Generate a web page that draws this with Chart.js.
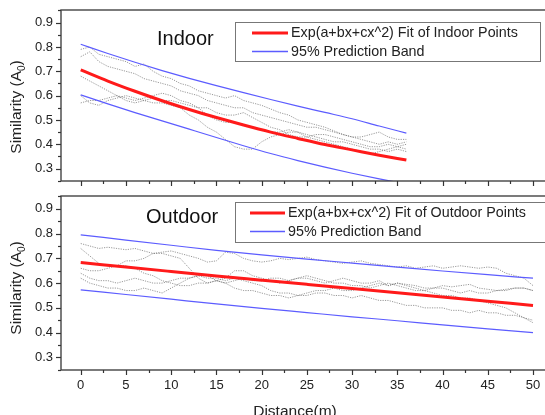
<!DOCTYPE html>
<html><head><meta charset="utf-8">
<script src="https://cdn.jsdelivr.net/npm/chart.js@4/dist/chart.umd.min.js"></script>
<style>
html,body{margin:0;padding:0;overflow:hidden;background:#fff;width:545px;height:415px;position:relative}
canvas{position:absolute;left:0}
#c1{top:0}
#c2{top:190px}
</style></head><body>
<canvas id="c1" width="570" height="190"></canvas>
<canvas id="c2" width="570" height="225"></canvas>
<script>
// ---------- DATA ----------
const xMajorTicks = [0, 5, 10, 15, 20, 25, 30, 35, 40, 45, 50];
const xMinorTicks = [2.5, 7.5, 12.5, 17.5, 22.5, 27.5, 32.5, 37.5, 42.5, 47.5];
const yMajorTicks = [0.3, 0.4, 0.5, 0.6, 0.7, 0.8, 0.9];
const yMinorTicks = [0.25, 0.35, 0.45, 0.55, 0.65, 0.75, 0.85, 0.95];

const indoorDist = [0,1,2,3,4,5,6,7,8,9,10,11,12,13,14,15,16,17,18,19,20,21,22,23,24,25,26,27,28,29,30,31,32,33,34,35,36];
const indoorTrace1 = [.79,.80,.77,.76,.75,.74,.72,.73,.70,.68,.67,.65,.64,.62,.61,.60,.59,.60,.58,.57,.56,.545,.53,.52,.50,.49,.48,.47,.455,.44,.43,.43,.44,.45,.43,.42,.42];
const indoorTrace2 = [.76,.78,.74,.72,.71,.70,.69,.67,.66,.65,.64,.62,.61,.60,.58,.57,.56,.55,.55,.53,.52,.51,.50,.49,.48,.47,.47,.46,.45,.44,.43,.42,.41,.40,.41,.40,.41];
const indoorTrace3 = [.68,.66,.64,.62,.60,.59,.58,.59,.60,.61,.60,.58,.57,.55,.52,.50,.49,.49,.48,.47,.46,.45,.45,.46,.45,.44,.43,.42,.41,.41,.40,.39,.38,.38,.37,.38,.37];
const indoorTrace4 = [.60,.57,.56,.58,.59,.60,.59,.58,.57,.57,.56,.55,.52,.50,.47,.45,.42,.39,.38,.38,.41,.43,.44,.45,.45,.43,.42,.41,.40,.39,.38,.37,.36,.37,.38,.39,.40];
const indoorTrace5 = [.57,.58,.58,.59,.60,.58,.57,.58,.59,.58,.58,.57,.56,.55,.55,.53,.52,.52,.53,.51,.49,.47,.46,.44,.43,.43,.44,.44,.43,.42,.41,.40,.39,.39,.40,.39,.38];

const indoorFitDist = [0,3,6,9,12,15,18,21,24,27,30,33,36];
const indoorFit   = [.706,.660,.618,.579,.543,.510,.479,.450,.424,.399,.377,.355,.335];
const indoorUpper = [.811,.773,.737,.703,.671,.641,.612,.584,.557,.531,.505,.475,.446];
const indoorLower = [.603,.566,.530,.496,.462,.428,.394,.362,.333,.306,.281,.258,.236];

const outdoorDist = [0,1,2,3,4,5,6,7,8,9,10,11,12,13,14,15,16,17,18,19,20,21,22,23,24,25,26,27,28,29,30,31,32,33,34,35,36,37,38,39,40,41,42,43,44,45,46,47,48,49,50];
const outdoorTrace1 = [.76,.75,.74,.745,.74,.735,.74,.73,.72,.725,.73,.72,.71,.70,.685,.69,.725,.72,.70,.69,.685,.69,.70,.695,.70,.705,.695,.69,.685,.68,.685,.69,.68,.675,.67,.665,.67,.66,.665,.67,.66,.665,.67,.665,.66,.665,.66,.64,.63,.62,.59];
const outdoorTrace2 = [.74,.71,.68,.67,.67,.69,.69,.70,.72,.72,.71,.70,.66,.62,.60,.61,.62,.65,.65,.63,.62,.61,.60,.61,.62,.62,.61,.60,.61,.62,.61,.60,.60,.61,.59,.60,.595,.59,.58,.58,.59,.585,.59,.595,.58,.575,.57,.575,.58,.58,.57];
const outdoorTrace3 = [.66,.65,.65,.66,.67,.67,.66,.64,.63,.61,.60,.59,.59,.60,.60,.61,.60,.61,.62,.61,.61,.62,.62,.61,.62,.63,.62,.61,.60,.60,.59,.59,.58,.59,.60,.59,.58,.57,.57,.58,.58,.57,.56,.57,.56,.56,.57,.57,.58,.58,.57];
const outdoorTrace4 = [.64,.62,.61,.61,.60,.61,.62,.61,.60,.60,.61,.62,.62,.63,.62,.62,.61,.62,.61,.60,.59,.57,.56,.56,.55,.55,.56,.56,.55,.55,.54,.55,.54,.53,.53,.52,.51,.51,.50,.50,.50,.49,.49,.48,.49,.48,.48,.47,.47,.46,.45];
const outdoorTrace5 = [.62,.60,.59,.58,.58,.57,.57,.58,.57,.56,.58,.60,.62,.63,.63,.61,.60,.58,.57,.57,.56,.55,.55,.54,.55,.56,.57,.57,.58,.57,.57,.58,.59,.60,.59,.60,.59,.58,.57,.56,.55,.55,.54,.54,.53,.52,.51,.50,.48,.46,.44];

const outdoorFitDist = [0,5,10,15,20,25,30,35,40,45,50];
const outdoorFit   = [.683,.665,.647,.629,.612,.595,.578,.561,.544,.527,.510];
const outdoorUpper = [.795,.774,.753,.732,.714,.697,.681,.665,.649,.634,.620];
const outdoorLower = [.573,.554,.535,.516,.498,.481,.464,.448,.431,.415,.400];

const fitLabelIndoor = 'Exp(a+bx+cx^2) Fit of Indoor Points';
const fitLabelOutdoor = 'Exp(a+bx+cx^2) Fit of Outdoor Points';
const bandLabel = '95% Prediction Band';

// ---------- STYLE / HELPERS ----------
const FONT = "'Liberation Sans', Arial, Helvetica, sans-serif";
const RED = '#ff1a1a', BLUE = '#5c5cff', TRACE = 'rgba(90,90,90,0.62)';
const pts = (xs, ys) => ys.map((y, i) => ({x: xs[i], y}));
const isIn = (arr, v) => arr.some(t => Math.abs(t - v) < 1e-9);

function traceDs(xs, ys){
  return {label:'trace', data: pts(xs, ys), borderColor: TRACE, borderWidth: 1,
    borderDash:[1.2,1.2], pointRadius:0, tension:0, fill:false};
}
function curveDs(label, xs, ys, color, w){
  return {label, data: pts(xs, ys), borderColor: color, borderWidth: w,
    pointRadius:0, cubicInterpolationMode:'monotone', fill:false};
}

function makePanel(id, o){
  const datasets = [
    curveDs(o.fitLabel, o.fitDist, o.fit, RED, 3),
    curveDs(bandLabel, o.fitDist, o.upper, BLUE, 1.2),
    curveDs(bandLabel, o.fitDist, o.lower, BLUE, 1.2),
    ...o.traces.map(t => traceDs(o.dist, t))
  ];
  const annot = {
    id: 'annot_' + id,
    afterDraw(chart){
      const {ctx, chartArea: a, scales: {x, y}} = chart;
      ctx.save();
      ctx.setLineDash([]);
      ctx.lineDashOffset = 0;
      // frame
      ctx.strokeStyle = '#444'; ctx.lineWidth = 1.4;
      ctx.strokeRect(a.left, a.top, a.right - a.left, a.bottom - a.top);
      // tick marks
      ctx.lineWidth = 1.2; ctx.strokeStyle = '#333';
      for (const v of [...xMajorTicks, ...xMinorTicks]) {
        const px = Math.round(x.getPixelForValue(v)) + 0.5;
        if (px > a.right) continue;
        const len = isIn(xMajorTicks, v) ? 5 : 3;
        ctx.beginPath(); ctx.moveTo(px, a.bottom); ctx.lineTo(px, a.bottom + len); ctx.stroke();
      }
      for (const v of [...yMajorTicks, ...yMinorTicks]) {
        const py = Math.round(y.getPixelForValue(v)) + 0.5;
        const len = isIn(yMajorTicks, v) ? 5 : 3;
        ctx.beginPath(); ctx.moveTo(a.left, py); ctx.lineTo(a.left - len, py); ctx.stroke();
      }
      // panel title
      ctx.fillStyle = '#111'; ctx.font = '20px ' + FONT;
      ctx.textBaseline = 'alphabetic'; ctx.textAlign = 'left';
      ctx.fillText(o.title, o.titleX, o.titleY);
      // legend box
      const L = o.legend;
      ctx.fillStyle = '#fff'; ctx.fillRect(L.x, L.y, L.w, L.h);
      ctx.strokeStyle = '#777'; ctx.lineWidth = 1; ctx.strokeRect(L.x + 0.5, L.y + 0.5, L.w, L.h);
      ctx.setLineDash([]);
      ctx.lineWidth = 3; ctx.strokeStyle = RED;
      ctx.beginPath(); ctx.moveTo(L.lx1, L.r1); ctx.lineTo(L.lx2, L.r1); ctx.stroke();
      ctx.setLineDash([]);
      ctx.lineWidth = 1.5; ctx.strokeStyle = BLUE;
      ctx.beginPath(); ctx.moveTo(L.lx1, L.r2); ctx.lineTo(L.lx2, L.r2); ctx.stroke();
      ctx.fillStyle = '#222'; ctx.font = '14.3px ' + FONT; ctx.textBaseline = 'middle';
      ctx.fillText(o.fitLabel, L.tx, L.r1 + 0.5);
      ctx.fillText(bandLabel, L.tx, L.r2 + 0.5);
      // y axis title with subscript
      ctx.save();
      ctx.translate(o.yTitleX, o.yTitleY); ctx.rotate(-Math.PI / 2);
      ctx.fillStyle = '#222'; ctx.textBaseline = 'middle';
      const main = 'Similarity (A', sub = '0', end = ')';
      ctx.font = '15.5px ' + FONT; const w1 = ctx.measureText(main).width, w3 = ctx.measureText(end).width;
      ctx.font = '10px ' + FONT; const w2 = ctx.measureText(sub).width;
      let sx = -(w1 + w2 + w3) / 2;
      ctx.textAlign = 'left';
      ctx.font = '15.5px ' + FONT; ctx.fillText(main, sx, 0); sx += w1;
      ctx.font = '10px ' + FONT; ctx.fillText(sub, sx, 5); sx += w2;
      ctx.font = '15.5px ' + FONT; ctx.fillText(end, sx, 0);
      ctx.restore();
      // x axis title
      if (o.xTitle) {
        ctx.fillStyle = '#222'; ctx.font = '15.5px ' + FONT;
        ctx.textAlign = 'center'; ctx.textBaseline = 'alphabetic';
        ctx.fillText(o.xTitle, o.xTitleX, o.xTitleY);
      }
      ctx.restore();
    }
  };
  return new Chart(document.getElementById(id), {
    type: 'line',
    data: {datasets},
    options: {
      responsive: false, animation: false, devicePixelRatio: 1,
      layout: {padding: {top: o.padTop, left: 0, right: 0, bottom: 0}},
      plugins: {legend: {display: false}, tooltip: {enabled: false}, title: {display: false}},
      scales: {
        x: {
          type: 'linear', min: -2.18, max: 54.09,
          grid: {display: false, drawTicks: false}, border: {display: false},
          afterBuildTicks: s => { s.ticks = [...xMajorTicks, ...xMinorTicks].sort((a,b)=>a-b).map(v => ({value: v})); },
          afterFit: s => { s.height = o.xAxisH; s.paddingLeft = 0; s.paddingRight = 0; },
          ticks: {display: o.showXLabels, autoSkip: false, maxRotation: 0, padding: 8, color: '#222',
            font: {family: FONT, size: 13},
            callback: v => isIn(xMajorTicks, v) ? String(v) : ''}
        },
        y: {
          type: 'linear', min: 0.249, max: 0.952,
          grid: {display: false, drawTicks: false}, border: {display: false},
          afterBuildTicks: s => { s.ticks = [...yMajorTicks, ...yMinorTicks].sort((a,b)=>a-b).map(v => ({value: v})); },
          afterFit: s => { s.width = 61; s.paddingTop = 0; s.paddingBottom = 0; },
          ticks: {autoSkip: false, padding: 8, color: '#222', font: {family: FONT, size: 13},
            callback: v => isIn(yMajorTicks, v) ? v.toFixed(1) : ''}
        }
      }
    },
    plugins: [annot]
  });
}

makePanel('c1', {
  dist: indoorDist, traces: [indoorTrace1, indoorTrace2, indoorTrace3, indoorTrace4, indoorTrace5],
  fitDist: indoorFitDist, fit: indoorFit, upper: indoorUpper, lower: indoorLower,
  fitLabel: fitLabelIndoor, title: 'Indoor', titleX: 157, titleY: 45,
  padTop: 10, xAxisH: 9, showXLabels: false,
  legend: {x: 235, y: 22, w: 305, h: 39, lx1: 252, lx2: 288, r1: 33, r2: 51.5, tx: 291},
  yTitleX: 17, yTitleY: 107
});
makePanel('c2', {
  dist: outdoorDist, traces: [outdoorTrace1, outdoorTrace2, outdoorTrace3, outdoorTrace4, outdoorTrace5],
  fitDist: outdoorFitDist, fit: outdoorFit, upper: outdoorUpper, lower: outdoorLower,
  fitLabel: fitLabelOutdoor, title: 'Outdoor', titleX: 146, titleY: 33,
  padTop: 6, xAxisH: 45, showXLabels: true,
  legend: {x: 235, y: 12, w: 330, h: 40, lx1: 250, lx2: 285, r1: 23, r2: 41.5, tx: 288},
  yTitleX: 17, yTitleY: 98,
  xTitle: 'Distance(m)', xTitleX: 295, xTitleY: 226
});
</script>
</body></html>
